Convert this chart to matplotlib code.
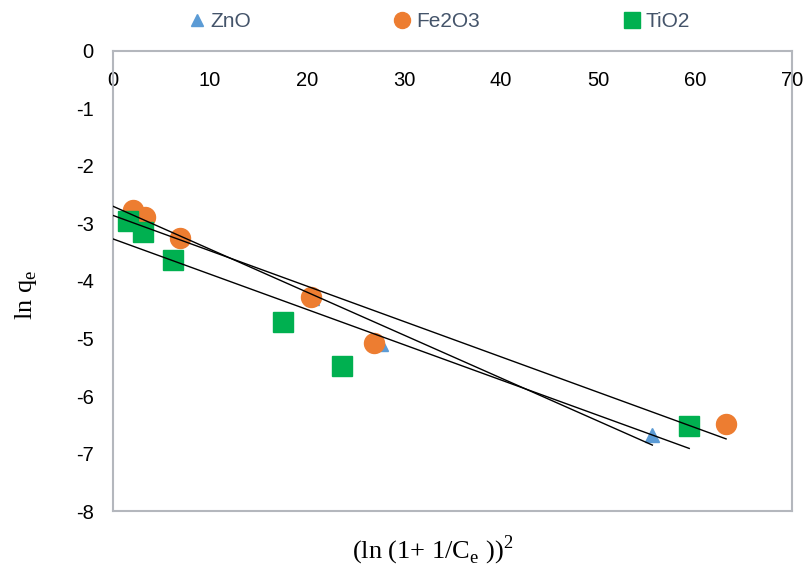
import numpy as np
import matplotlib
matplotlib.use("Agg")
import matplotlib.pyplot as plt
from matplotlib.lines import Line2D

# data
zno_x = [2.2, 3.4, 7.0, 20.5, 27.6, 55.6]
zno_y = [-2.72, -2.86, -3.24, -4.30, -5.10, -6.67]
fe_x = [2.1, 3.3, 6.9, 20.4, 26.9, 63.2]
fe_y = [-2.76, -2.88, -3.25, -4.27, -5.07, -6.48]
ti_x = [1.55, 3.1, 6.2, 17.5, 23.6, 59.4]
ti_y = [-2.95, -3.14, -3.63, -4.72, -5.47, -6.53]

names = ["ZnO", "Fe2O3", "TiO2"]
colors = ["#5B9BD5", "#ED7D31", "#00B050"]
markers = ["^", "o", "s"]
sizes = [10.5, 14.4, 13.7]

plt.rcParams['font.family'] = ['Liberation Sans', 'DejaVu Sans']
plt.rcParams['axes.unicode_minus'] = False
plt.rcParams['mathtext.fontset'] = 'custom'
plt.rcParams['mathtext.rm'] = 'Liberation Serif'

fig = plt.figure(figsize=(8.05, 5.73), dpi=100)
ax = fig.add_axes([0.1404, 0.1082, 0.8435, 0.8028])

series = [(zno_x, zno_y), (fe_x, fe_y), (ti_x, ti_y)]
handles = []
for (xs, ys), nm, c, m, s in zip(series, names, colors, markers, sizes):
    ax.plot(xs, ys, linestyle='none', marker=m, ms=s, color=c, mec=c, zorder=2)
    handles.append(Line2D([], [], linestyle='none', marker=m, ms=s * 0.8, color=c, mec=c))

# linear trendlines from x=0 to the last point
for xs, ys in series:
    k, b = np.polyfit(xs, ys, 1)
    xx = np.array([0, max(xs)])
    ax.plot(xx, k * xx + b, color='black', lw=1.0, zorder=3)

ax.set_xlim(0, 70)
ax.set_ylim(-8, 0)
ax.set_xticks(np.arange(0, 71, 10))
ax.set_yticks(np.arange(-8, 1, 1))
ax.xaxis.tick_top()
ax.tick_params(axis='x', length=0, pad=-28, labelsize=14.5)
ax.tick_params(axis='y', length=0, pad=14, labelsize=14.5)
for sp in ax.spines.values():
    sp.set_color('#B4B7BD')
    sp.set_linewidth(1.5)

fig.text(0.032, 0.485, r'ln q$_\mathregular{e}$', family='Liberation Serif', fontsize=19,
         rotation=90, ha='center', va='center')
fig.text(0.537, 0.04, r'(ln (1+ 1/C$_\mathregular{e}$ ))$^\mathregular{2}$',
         family='Liberation Serif', fontsize=19, ha='center', va='center')

# legend entries spread across the top
leg_x = [0.233, 0.488, 0.773]
for h, nm, lx in zip(handles, names, leg_x):
    lg = fig.legend(handles=[h], labels=[nm], loc='center left', bbox_to_anchor=(lx, 0.962),
                    frameon=False, borderpad=0, borderaxespad=0, handlelength=0.9,
                    handletextpad=0.2, fontsize=15, labelcolor='#44546A')

fig.savefig('out.png', dpi=100)
